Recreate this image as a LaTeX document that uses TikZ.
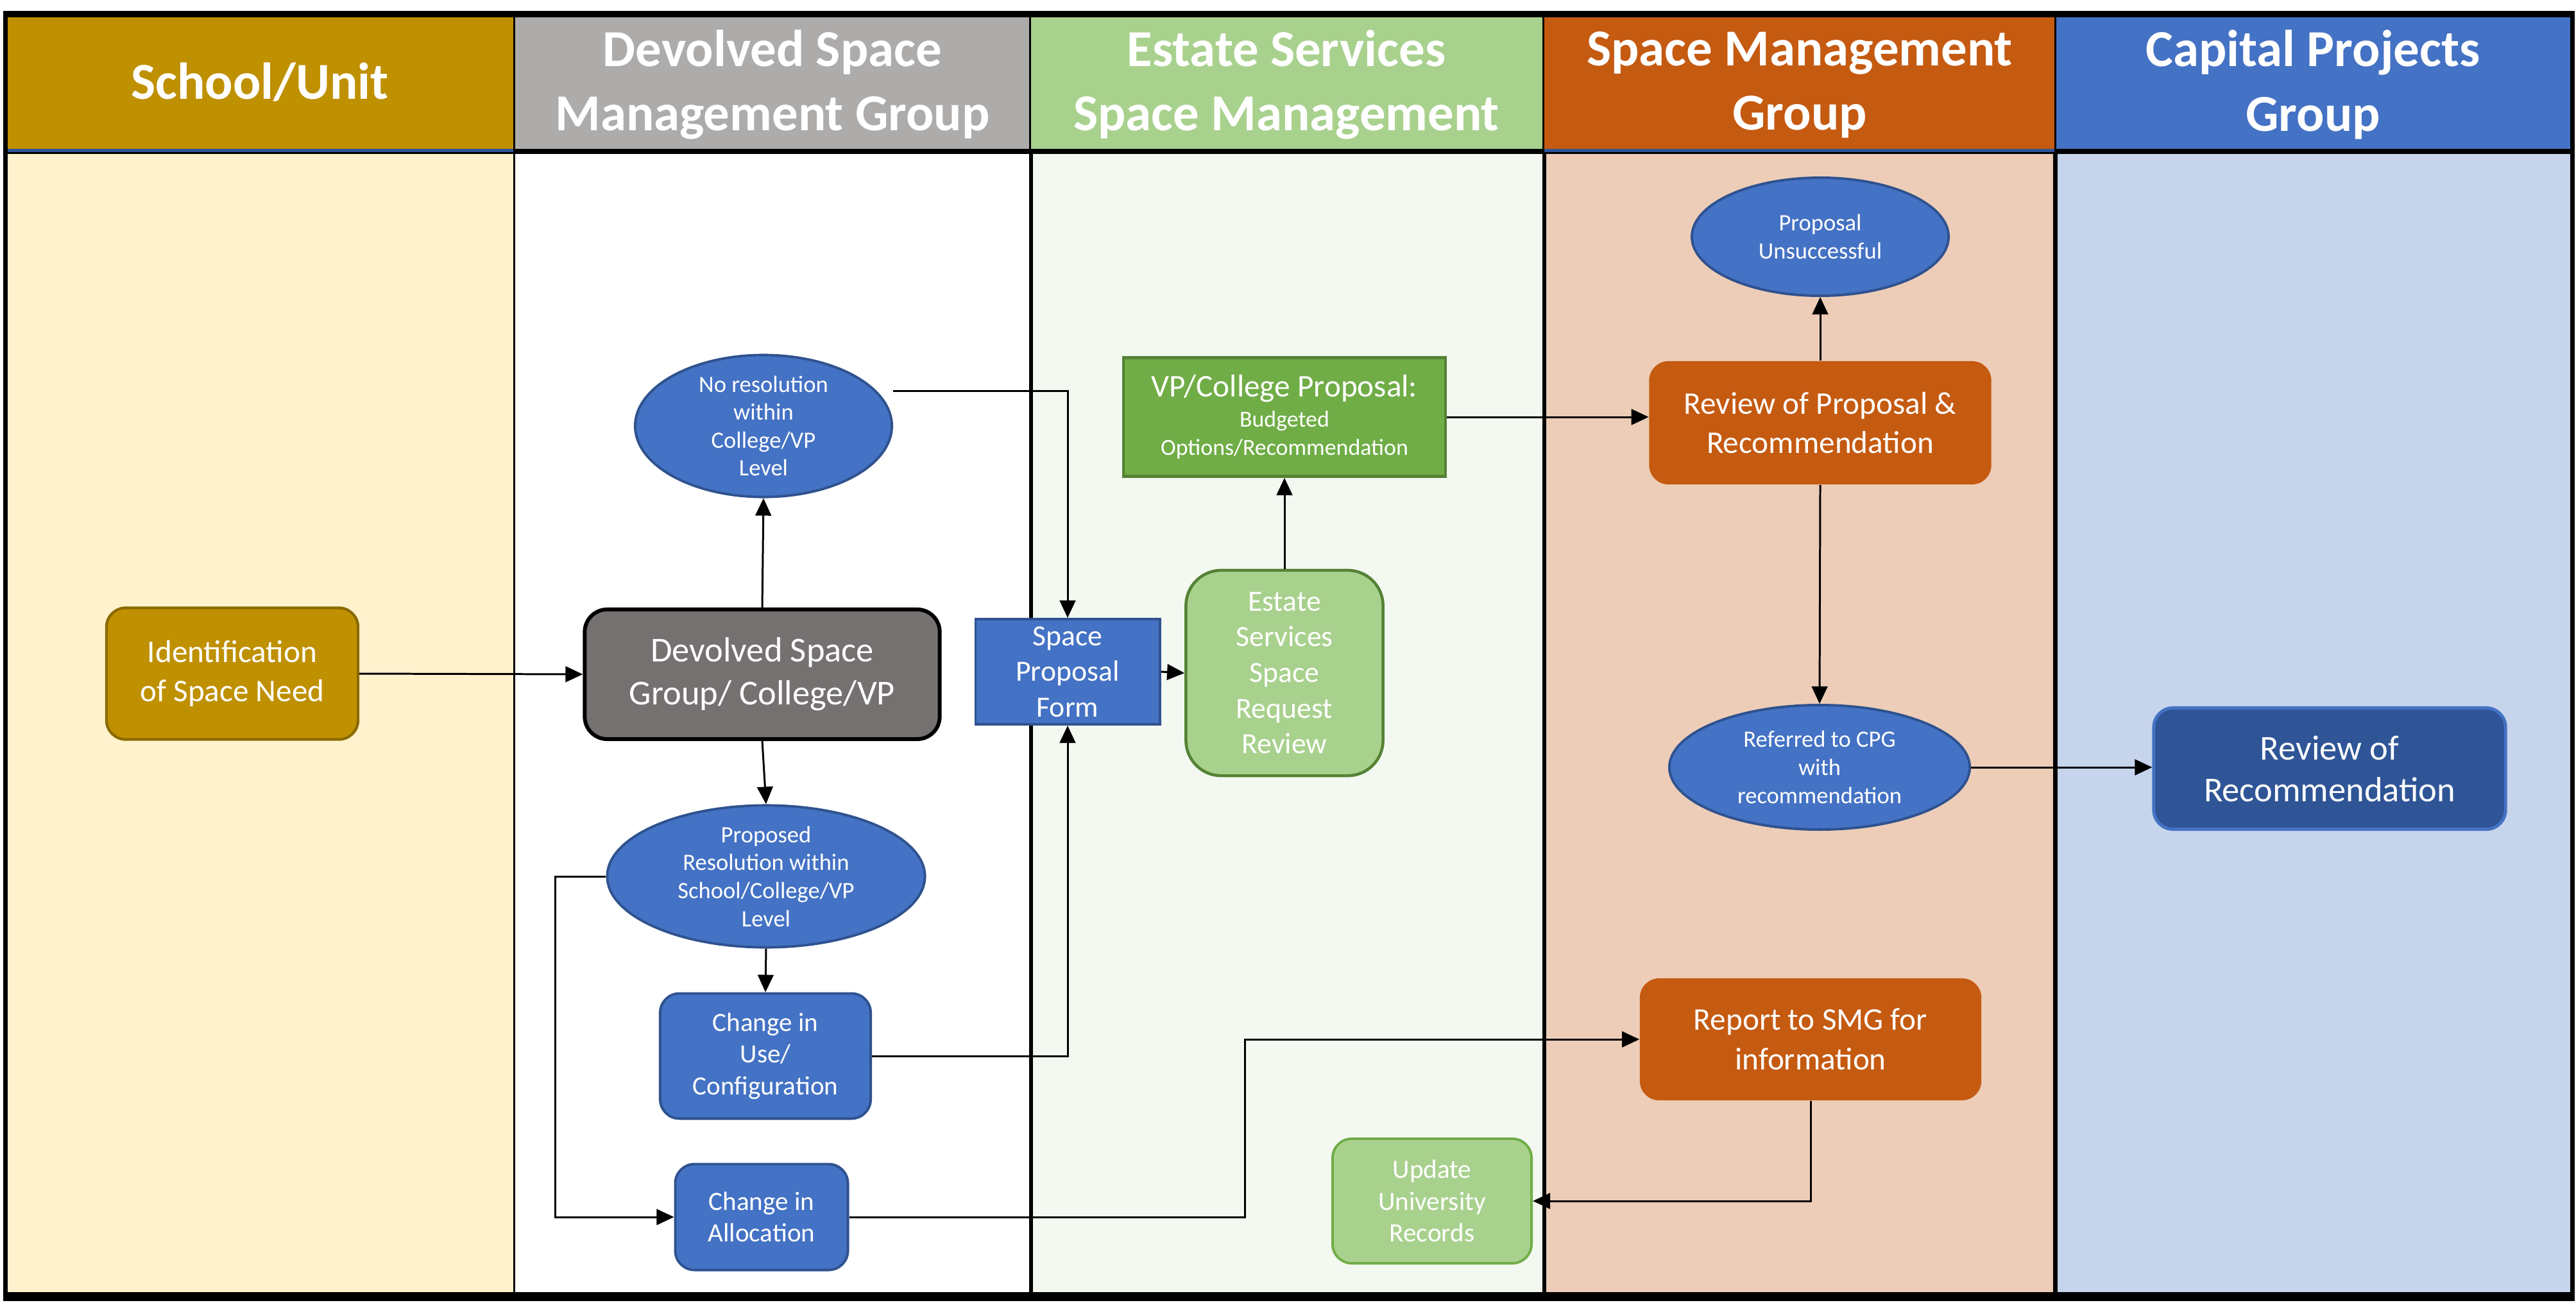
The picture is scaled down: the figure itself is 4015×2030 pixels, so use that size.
\documentclass[tikz,border=0pt]{standalone}
\usepackage{fontspec}
\setmainfont{Carlito}
\usetikzlibrary{shapes.geometric,arrows.meta,calc}
\definecolor{hA}{HTML}{BF9000}
\definecolor{bA}{HTML}{FFF2CC}
\definecolor{hB}{HTML}{AEABAB}
\definecolor{bB}{HTML}{FFFFFF}
\definecolor{hC}{HTML}{A9D18E}
\definecolor{bC}{HTML}{F3F8F0}
\definecolor{hD}{HTML}{C55A11}
\definecolor{bD}{HTML}{EDCDB7}
\definecolor{hE}{HTML}{4472C4}
\definecolor{bE}{HTML}{C6D4EC}
\definecolor{navy}{HTML}{2F528F}
\definecolor{dblue}{HTML}{2F5597}
\definecolor{gbox}{HTML}{767171}
\definecolor{goldedge}{HTML}{8A6A00}
\definecolor{lgreen}{HTML}{A9D18E}
\definecolor{mgreen}{HTML}{70AD47}
\definecolor{dgreen}{HTML}{548235}
\begin{document}
\begin{tikzpicture}[x=0.01cm,y=-0.01cm,
  hdrtext/.style={text=white,align=center,font=\bfseries\fontsize{23}{28.5}\selectfont,inner sep=0pt},
  txt/.style={text=white,align=center,inner sep=0pt},
  bluellipse/.style={txt,ellipse,fill=hE,draw=navy,line width=1.1pt,font=\fontsize{10.4}{12.4}\selectfont},
  bluebox/.style={txt,rectangle,rounded corners=0.3cm,fill=hE,draw=navy,line width=1.1pt,font=\fontsize{11.7}{14}\selectfont},
  orangebox/.style={txt,rectangle,rounded corners=0.3cm,fill=hD,draw=none,font=\fontsize{14}{17.5}\selectfont},
  arr/.style={draw=black,line width=0.85pt,-{Triangle[length=7.7pt,width=7pt]}},
  lane/.style={draw=none}
]
\useasboundingbox (0,0) rectangle (4015,2030);
% frame and lanes
\fill[black] (5,17) rectangle (4013,2028);
\fill[hA] (12,27) rectangle (800,232);
\fill[hB] (803,27) rectangle (1604,232);
\fill[hC] (1607,27) rectangle (2404,232);
\fill[hD] (2407,27) rectangle (3202,232);
\fill[hE] (3205,27) rectangle (4006,232);
\fill[dblue] (12,232) rectangle (800,237);
\fill[dblue] (2407,232) rectangle (3202,237);
\fill[bA] (12,240) rectangle (800,2014);
\fill[bB] (803,240) rectangle (1604,2014);
\fill[bC] (1610,240) rectangle (2404,2014);
\fill[bD] (2410,240) rectangle (3200,2014);
\fill[bE] (3207,240) rectangle (4006,2014);
% headers
\node[hdrtext] (hdrA) at (405,128) {School/Unit};
\node[hdrtext] (hdrB) at (1204,132) {Devolved Space\\Management Group};
\node[hdrtext] (hdrC) at (2005,132) {Estate Services\\Space Management};
\node[hdrtext] (hdrD) at (2805,132) {Space Management\\Group};
\node[hdrtext] (hdrE) at (3605,132) {Capital Projects\\Group};
% nodes
\node[txt,rectangle,rounded corners=0.3cm,fill=hA,draw=goldedge,line width=1.2pt,
  minimum width=3.92cm,minimum height=2.05cm,font=\fontsize{14}{17.5}\selectfont]
  (ident) at (362,1050) {Identification\\of Space Need};
\node[txt,rectangle,rounded corners=0.35cm,fill=gbox,draw=black,line width=1.7pt,
  minimum width=5.53cm,minimum height=2.02cm,font=\fontsize{15.5}{19}\selectfont]
  (devolved) at (1188,1051) {Devolved Space\\Group/ College/VP};
\node[bluellipse,minimum width=4.0cm,minimum height=1.92cm] (nores) at (1190,664)
  {No resolution\\within\\College/VP\\Level};
\node[bluellipse,minimum width=4.95cm,minimum height=1.87cm] (proposed) at (1194,1366)
  {Proposed\\Resolution within\\School/College/VP\\Level};
\node[bluebox,minimum width=3.28cm,minimum height=1.95cm] (chuse) at (1193,1646)
  {Change in\\Use/\\Configuration};
\node[bluebox,minimum width=2.69cm,minimum height=1.65cm] (challoc) at (1187,1897)
  {Change in\\Allocation};
\node[txt,rectangle,fill=hE,draw=navy,line width=1.1pt,minimum width=2.87cm,minimum height=1.64cm,
  font=\fontsize{13}{15.8}\selectfont] (form) at (1664,1047) {Space\\Proposal\\Form};
\node[txt,rectangle,rounded corners=0.55cm,fill=lgreen,draw=dgreen,line width=1.3pt,
  minimum width=3.07cm,minimum height=3.2cm,font=\fontsize{13}{15.8}\selectfont]
  (esrr) at (2002,1049) {Estate\\Services\\Space\\Request\\Review};
\node[txt,rectangle,fill=mgreen,draw=dgreen,line width=1.3pt,minimum width=5.02cm,minimum height=1.85cm,
  font=\fontsize{10.2}{12.4}\selectfont] (vpprop) at (2002,650)
  {{\fontsize{14}{17}\selectfont VP/College Proposal:}\\[1pt]Budgeted\\Options/Recommendation};
\node[txt,rectangle,rounded corners=0.3cm,fill=lgreen,draw=mgreen,line width=1.1pt,
  minimum width=3.1cm,minimum height=1.94cm,font=\fontsize{11.7}{14}\selectfont]
  (update) at (2232,1872) {Update\\University\\Records};
\node[bluellipse,minimum width=4.0cm,minimum height=1.84cm] (unsucc) at (2837,369)
  {Proposal\\Unsuccessful};
\node[orangebox,minimum width=5.33cm,minimum height=1.92cm] (revprop) at (2837,659)
  {Review of Proposal \&\\Recommendation};
\node[bluellipse,minimum width=4.68cm,minimum height=1.94cm] (referred) at (2836,1196)
  {Referred to CPG\\with\\recommendation};
\node[orangebox,minimum width=5.32cm,minimum height=1.9cm] (report) at (2822,1620)
  {Report to SMG for\\information};
\node[txt,rectangle,rounded corners=0.3cm,fill=dblue,draw=hE,line width=1.4pt,
  minimum width=5.48cm,minimum height=1.89cm,font=\fontsize{15.5}{18.5}\selectfont]
  (revrec) at (3631,1198) {Review of\\Recommendation};
% connectors
\draw[arr] (ident.east) -- (devolved.west);
\draw[arr] (devolved.north) -- (nores.south);
\draw[arr] (devolved.south) -- (proposed.north);
\draw[arr] ($(nores.east)+(0,-55)$) -| (form.north);
\draw[arr] (proposed.west) -- ++(-79,0) |- (challoc.west);
\draw[arr] (proposed.south) -- (chuse.north);
\draw[arr] (chuse.east) -| (form.south);
\draw[arr] (form.east) -- (esrr.west);
\draw[arr] (esrr.north) -- (vpprop.south);
\draw[arr] (vpprop.east) -- (vpprop.east -| revprop.west);
\draw[arr] (revprop.north) -- (unsucc.south);
\draw[arr] (revprop.south) -- (referred.north);
\draw[arr] (referred.east) -- (referred.east -| revrec.west);
\draw[arr] (challoc.east) -- ++(617,0) |- (report.west);
\draw[arr] (report.south) |- (update.east);
\end{tikzpicture}
\end{document}
